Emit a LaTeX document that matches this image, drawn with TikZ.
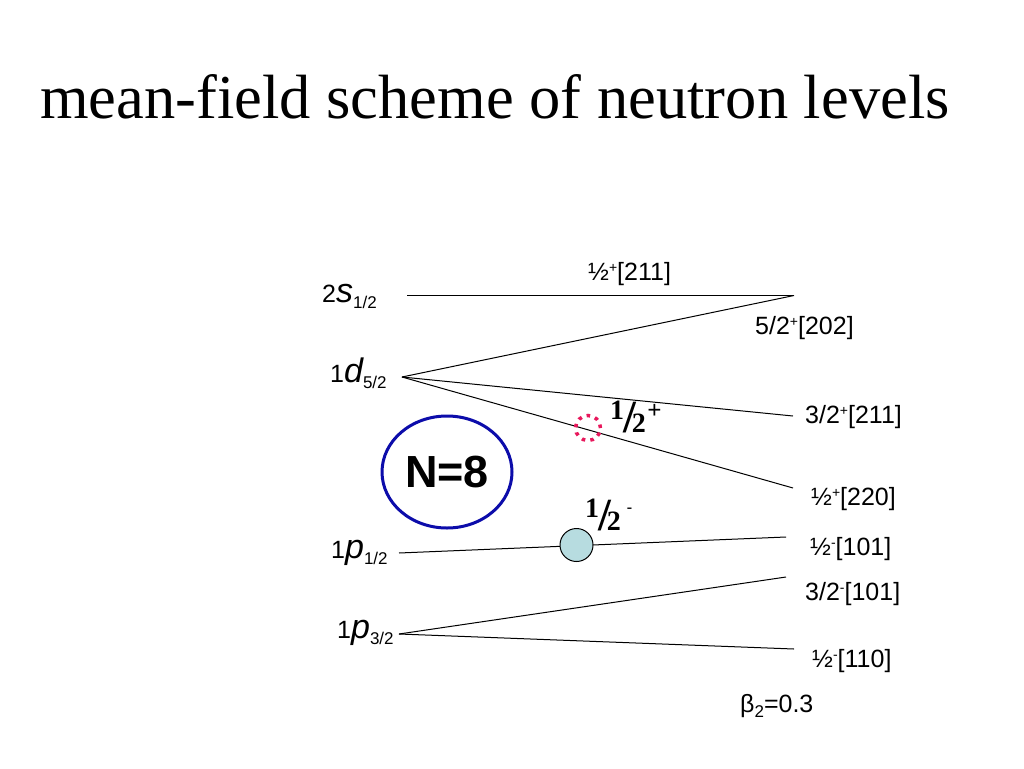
\documentclass[tikz,border=0pt]{standalone}
\usepackage{fontspec}
\setmainfont{Liberation Serif}
\newfontfamily\arialf{Liberation Sans}
\usetikzlibrary{shapes.geometric}
\newcommand\fs[1]{\fontsize{#1}{#1}\selectfont}
\newcommand\spr[1]{\raisebox{7.5pt}{\fs{14}#1}}
\newcommand\lvl[3]{{\arialf\fs{25}#1\fs{34}\itshape #2\upshape\fs{17}\raisebox{-6pt}{#3}}}
\newcommand\bhalf{{\fs{28}\raisebox{13pt}{1}}\kern-0.5pt{\fs{46}/}\kern-4.5pt{\fs{28}2}}
\definecolor{ellblue}{RGB}{12,12,170}
\definecolor{dotpink}{RGB}{232,24,92}
\definecolor{fillblue}{RGB}{183,220,224}
\begin{document}
\begin{tikzpicture}[x=1pt,y=-1pt,
  level/.style={draw=black,line width=1pt},
  lab/.style={anchor=base west,inner sep=0pt,font=\arialf\fs{25}},
  big/.style={anchor=base west,inner sep=0pt,font=\bfseries},
  orb/.style={anchor=base west,inner sep=0pt}]
\useasboundingbox[fill=white] (0,0) rectangle (1024,768);
\node[anchor=base west,inner sep=0pt,font=\fs{62.5}] (title) at (40,118) {mean-field scheme of neutron levels};
% vertices and end points
\coordinate (s2L) at (407,295.5);
\coordinate (s2R) at (794,295.5);
\coordinate (d5) at (402,377);
\coordinate (r32p) at (793,416);
\coordinate (r12p) at (793,488);
\coordinate (p1L) at (399,553);
\coordinate (p1R) at (786,537);
\coordinate (p3) at (399,634);
\coordinate (r32m) at (786,577);
\coordinate (r12m) at (794,649);
\draw[level] (s2L) -- (s2R);
\draw[level] (d5) -- (s2R);
\draw[level] (d5) -- (r32p);
\draw[level] (d5) -- (r12p);
\draw[level] (p1L) -- (p1R);
\draw[level] (p3) -- (r32m);
\draw[level] (p3) -- (r12m);
% orbital labels
\node[orb] (ls) at (322,302) {\lvl{2}{s}{1/2}};
\node[orb] (ld) at (330,382) {\lvl{1}{d}{5/2}};
\node[orb] (lp1) at (331,558) {\lvl{1}{p}{1/2}};
\node[orb] (lp3) at (337,638) {\lvl{1}{p}{3/2}};
% Nilsson labels
\node[lab] (n211) at (588,280) {½\spr{+}[211]};
\node[lab] (n202) at (755,334) {5/2\spr{+}[202]};
\node[lab] (n211b) at (805,423) {3/2\spr{+}[211]};
\node[lab] (n220) at (811,505) {½\spr{+}[220]};
\node[lab] (n101) at (810,555) {½\spr{-}[101]};
\node[lab] (n101b) at (805,600) {3/2\spr{-}[101]};
\node[lab] (n110) at (812,667) {½\spr{-}[110]};
\node[lab] (beta) at (740,712) {β\raisebox{-5pt}{\fs{17}2}=0.3};
% N=8
\node[ellipse,draw=ellblue,line width=3pt,minimum width=130pt,minimum height=112pt,inner sep=0pt,
  font=\arialf\bfseries\fs{45}] (n8) at (447,472) {N=8};
% markers
\node[circle,draw=dotpink,line width=3.5pt,dash pattern=on 3.5pt off 5.2pt,minimum size=25pt,inner sep=0pt] (hole) at (588,428) {};
\node[circle,draw=black,fill=fillblue,line width=1pt,minimum size=33pt,inner sep=0pt] (part) at (576.5,545) {};
\node[big] (hp) at (610,432) {\bhalf\kern1.5pt\raisebox{14pt}{\fs{25}+}};
\node[big] (hm) at (585,530) {\bhalf\kern6pt\raisebox{18pt}{\fs{16}-}};
\end{tikzpicture}
\end{document}
